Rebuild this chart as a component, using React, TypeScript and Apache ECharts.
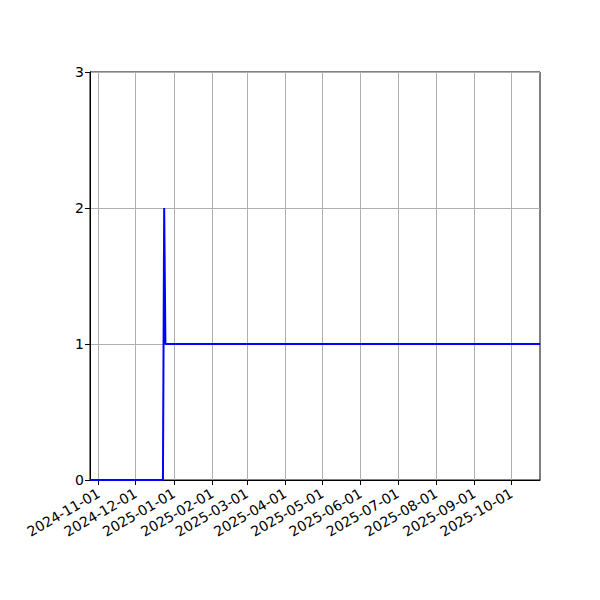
import { useRef, useEffect } from "react"
import * as echarts from "echarts"

// break points of the counted value (0 before the jump, spike to 2, then 1)
const dates = ["2024-10-25", "2024-12-23", "2024-12-24", "2024-12-25", "2025-10-24"]
const values = [0, 0, 2, 1, 1]

const monthTicks = [
  "2024-11-01", "2024-12-01", "2025-01-01", "2025-02-01", "2025-03-01", "2025-04-01",
  "2025-05-01", "2025-06-01", "2025-07-01", "2025-08-01", "2025-09-01", "2025-10-01",
]

const xMin = "2024-10-25"
const xMax = "2025-10-24"
const yTicks = [0, 1, 2, 3]

const toTime = (d: string) => new Date(d + "T00:00:00Z").getTime()
const fmt = (v: number) => new Date(v).toISOString().slice(0, 10)

export default function App() {
  const chartRef = useRef<HTMLDivElement>(null)

  useEffect(() => {
    document.body.style.margin = "0"
    if (!chartRef.current) return
    const instance = echarts.init(chartRef.current, undefined, { renderer: "svg" })
    const tickTimes = monthTicks.map(toTime)

    instance.setOption({
      animation: false,
      textStyle: { fontFamily: "DejaVu Sans" },
      grid: {
        left: 90,
        right: 60,
        top: 72,
        bottom: 120,
        show: true,
        borderColor: "#000",
        borderWidth: 1,
        backgroundColor: "transparent",
      },
      xAxis: {
        type: "value",
        min: toTime(xMin),
        max: toTime(xMax),
        axisLine: { lineStyle: { color: "#000", width: 1 } },
        axisTick: { show: true, length: 5, customValues: tickTimes, lineStyle: { color: "#000" } },
        axisLabel: {
          customValues: tickTimes,
          rotate: 30,
          margin: 12,
          fontSize: 14,
          color: "#000",
          formatter: (v: number) => fmt(v),
        },
        splitLine: { show: false },
      },
      yAxis: {
        type: "value",
        min: yTicks[0],
        max: yTicks[yTicks.length - 1],
        interval: 1,
        axisLine: { show: true, lineStyle: { color: "#000", width: 1 } },
        axisTick: { show: true, length: 5, lineStyle: { color: "#000" } },
        axisLabel: { fontSize: 14, color: "#000", margin: 6 },
        splitLine: { show: true, lineStyle: { color: "#b0b0b0", width: 1 } },
      },
      series: [
        {
          // carries the vertical month grid lines under the data line
          type: "line",
          data: [],
          z: 1,
          silent: true,
          markLine: {
            silent: true,
            symbol: "none",
            label: { show: false },
            lineStyle: { color: "#b0b0b0", width: 1, type: "solid" },
            data: tickTimes.map((t) => ({ xAxis: t })),
          },
        },
        {
          type: "line",
          z: 5,
          data: dates.map((d, i) => [toTime(d), values[i]]),
          showSymbol: false,
          lineStyle: { color: "#0000ff", width: 2 },
          itemStyle: { color: "#0000ff" },
        },
      ],
    })

    return () => instance.dispose()
  }, [])

  return <div ref={chartRef} style={{ width: 600, height: 600 }} />
}
